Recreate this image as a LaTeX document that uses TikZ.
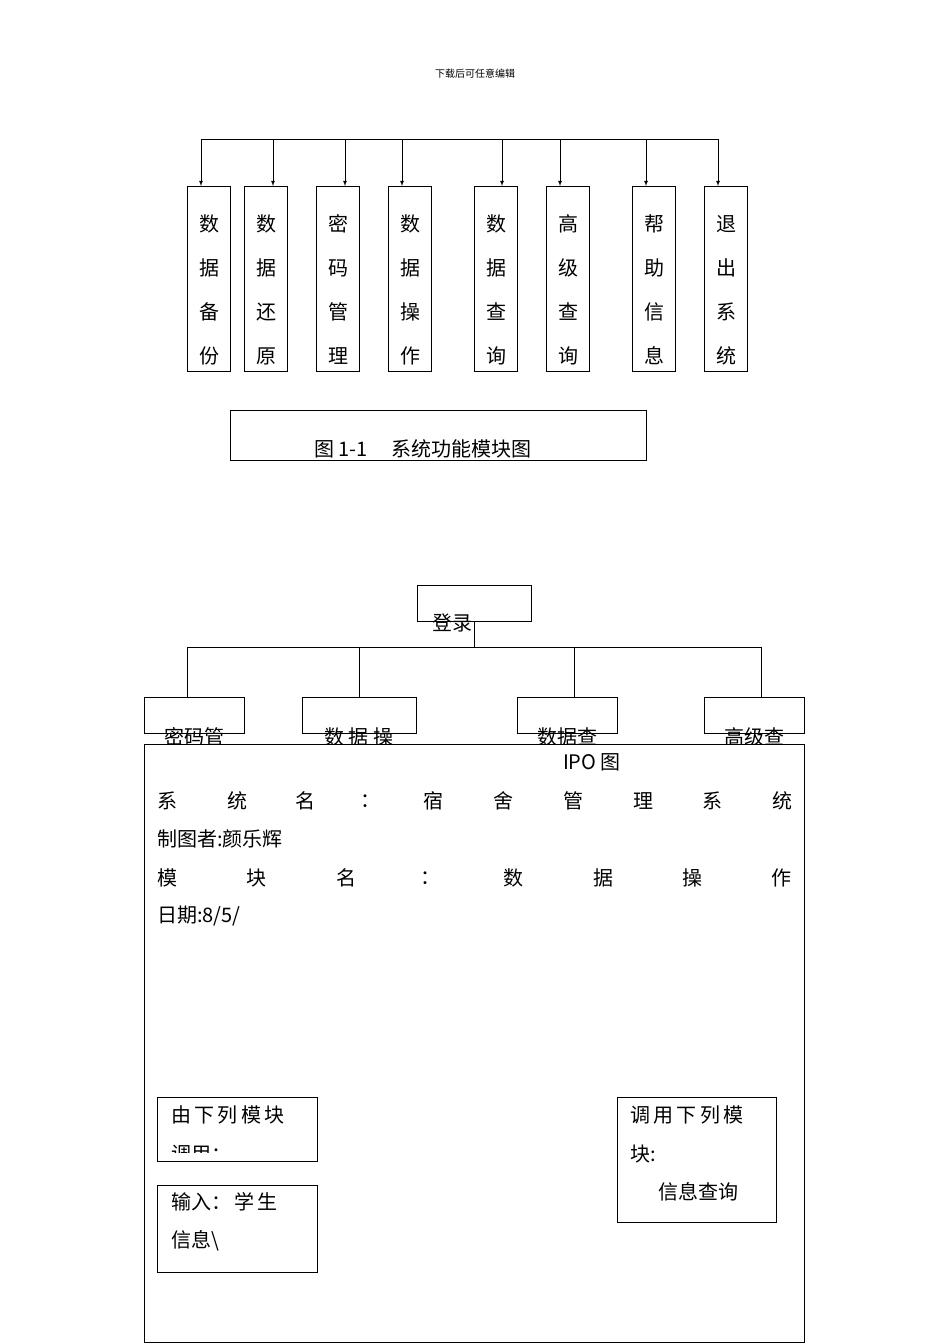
\documentclass[tikz,border=0pt]{standalone}
\usepackage{fontspec}
\setmainfont{Liberation Serif}
\newfontfamily\cjk{Noto Sans CJK SC}
\begin{document}
\begin{tikzpicture}[x=1pt,y=-1pt,
  bx/.style={draw,line width=0.8pt},
  ln/.style={line width=0.8pt},
  ar/.style={line width=0.8pt,-latex},
  tx/.style={inner sep=0,font=\cjk\fontsize{20}{20}\selectfont},
  sm/.style={inner sep=0,font=\cjk\fontsize{10}{10}\selectfont}]
\useasboundingbox[fill=white] (0,0) rectangle (950,1344);
\node[sm] (hdr) at (475,74) {下载后可任意编辑};
% top module chart
\coordinate (tl) at (201,139); \coordinate (tr) at (718,139);
\draw[ln] (tl) -- (tr);
\foreach \n/\xa/\xc/\t in {a/187/201/{数,据,备,份},b/244/273/{数,据,还,原},c/316/345/{密,码,管,理},d/388/402/{数,据,操,作},e/474/502/{数,据,查,询},f/546/560/{高,级,查,询},g/632/646/{帮,助,信,息},h/704/718/{退,出,系,统}}{
  \draw[bx] (\xa,186) rectangle (\xa+43,371);
  \coordinate (top\n) at (\xc,186);
  \draw[ar] (\xc,139) -- (top\n);
  \foreach \ch [count=\i] in \t { \node[tx] at (\xa+22,180+44*\i) {\ch}; }
}
\draw[bx] (230,410) rectangle (646,460);
\begin{scope}\clip (230,410) rectangle (646,460);
\node[tx,anchor=west] (cap) at (314,449) {图 1-1\hspace{1.2em}系统功能模块图};
\end{scope}
% login tree
\draw[bx] (417,585) rectangle (531,621);
\begin{scope}\clip (417,585) rectangle (531,640);
\node[tx] (login) at (452,623) {登录};
\end{scope}
\draw[ln] (474,621) -- (474,647);
\draw[ln] (187,647) -- (761,647);
\foreach \xa/\xb/\xv/\t in {144/244/187/{密码管},302/416/359/{数 据 操},517/617/574/{数据查},704/804/761/{高级查}}{
  \draw[ln] (\xv,647) -- (\xv,697);
  \draw[bx] (\xa,697) rectangle (\xb,733);
  \begin{scope}\clip (\xa,697) rectangle (\xb,744);
  \node[tx] at ({(\xa+\xb)/2},737) {\t};
  \end{scope}
}
% IPO box
\draw[bx] (144,744) rectangle (804,1342);
\node[tx] (ipo) at (592,762) {IPO 图};
\foreach \ch/\x in {系/167,统/237,名/305,：/370,宿/433,舍/503,管/573,理/643,系/712,统/782}{\node[tx] at (\x,801) {\ch};}
\node[tx,anchor=west] at (157,839) {制图者:颜乐辉};
\foreach \ch/\x in {模/167,块/256,名/346,：/430,数/513,据/603,操/692,作/781}{\node[tx] at (\x,878) {\ch};}
\node[tx,anchor=west] at (157,916) {日期:8/5/};
\draw[bx] (157,1097) rectangle (317,1161);
\begin{scope}\clip (157,1097) rectangle (317,1152);
\node[tx,anchor=west] at (171,1115) {由\,下\,列\,模\,块};
\node[tx,anchor=west] at (171,1154) {调用：};
\end{scope}
\draw[bx] (157,1185) rectangle (317,1272);
\node[tx,anchor=west] at (171,1202) {输入：\,学\,生};
\node[tx,anchor=west] at (171,1241) {信息\textbackslash};
\draw[bx] (617,1097) rectangle (776,1222);
\node[tx,anchor=west] at (630,1115) {调\,用\,下\,列\,模};
\node[tx,anchor=west] at (630,1154) {块:};
\node[tx] at (698,1192) {信息查询};
\end{tikzpicture}
\end{document}
